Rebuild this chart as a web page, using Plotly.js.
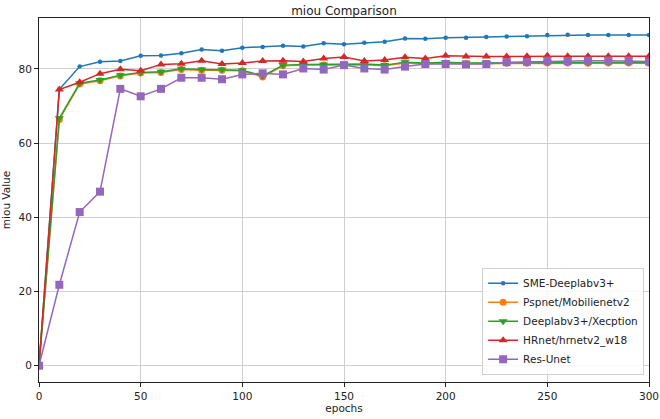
<!DOCTYPE html>
<html>
<head>
<meta charset="utf-8">
<script src="https://cdn.plot.ly/plotly-3.0.1.min.js"></script>
<style>
  html, body { margin: 0; padding: 0; background: #fff; }
  #chart { width: 660px; height: 419px; }
</style>
</head>
<body>
<div id="chart"></div>
<script>
// Training epochs (evaluated every 10 epochs)
const epochs = [0,10,20,30,40,50,60,70,80,90,100,110,120,130,140,150,160,170,180,190,200,210,220,230,240,250,260,270,280,290,300];

// mIoU per model
const smeDeeplab = [0,74.5,80.6,81.9,82.1,83.5,83.6,84.2,85.2,84.9,85.7,85.9,86.2,86.0,86.9,86.6,87.0,87.3,88.2,88.1,88.4,88.4,88.6,88.7,88.8,89.1,89.2,89.1,89.1,89.1,89.1];
const pspnet     = [0,66.3,75.9,76.8,78.1,78.9,79.0,79.8,79.6,79.6,79.5,77.8,80.8,81.0,81.0,81.1,81.1,80.8,81.6,81.4,81.6,81.4,81.4,81.5,81.5,81.6,81.6,81.5,81.6,81.6,81.5];
const deeplabX   = [0,66.7,76.1,77.0,78.3,79.0,79.2,80.0,79.8,79.8,79.6,78.1,81.0,81.2,81.2,81.3,81.3,81.0,81.8,81.6,81.8,81.6,81.6,81.7,81.7,81.8,81.8,81.7,81.8,81.8,81.7];
const hrnet      = [0,74.4,76.4,78.7,79.9,79.5,81.2,81.4,82.2,81.3,81.6,82.1,82.2,82.0,82.8,83.2,82.1,82.4,83.1,82.8,83.5,83.3,83.3,83.3,83.4,83.5,83.4,83.4,83.4,83.4,83.4];
const resUnet    = [0,21.8,41.4,46.9,74.6,72.6,74.6,77.6,77.6,77.2,78.5,78.8,78.5,80.1,79.8,81.0,80.1,79.8,80.6,81.3,81.3,81.2,81.3,81.8,81.9,82.2,82.1,82.2,82.2,82.2,82.0];

const seriesNames = ["SME-Deeplabv3+", "Pspnet/Mobilienetv2", "Deeplabv3+/Xecption", "HRnet/hrnetv2_w18", "Res-Unet"];

function series(name, y, color, symbol, size) {
  return {
    x: epochs, y: y, name: name, type: "scatter", mode: "lines+markers",
    line: { color: color, width: 1.5 },
    marker: { color: color, symbol: symbol, size: size }
  };
}

const traces = [
  series(seriesNames[0], smeDeeplab, "#1f77b4", "circle", 4.5),
  series(seriesNames[1], pspnet,     "#ff7f0e", "circle", 7),
  series(seriesNames[2], deeplabX,   "#2ca02c", "triangle-down", 8),
  series(seriesNames[3], hrnet,      "#d62728", "triangle-up", 8),
  series(seriesNames[4], resUnet,    "#9467bd", "square", 8)
];

const axisBase = {
  showline: true, mirror: true, linecolor: "#222", linewidth: 1,
  showgrid: true, gridcolor: "#cfcfcf", gridwidth: 1,
  zeroline: false,
  ticks: "outside", ticklen: 4, tickcolor: "#222",
  tickfont: { family: "DejaVu Sans", size: 10.5, color: "#222" }
};

const layout = {
  width: 660, height: 419,
  margin: { l: 39, r: 11, t: 18, b: 37 },
  paper_bgcolor: "#fff", plot_bgcolor: "#fff",
  font: { family: "DejaVu Sans", color: "#222" },
  title: { text: "miou Comparison", font: { family: "DejaVu Sans", size: 12, color: "#222" },
           x: 0.5, xref: "paper", y: 0.985, yanchor: "top" },
  xaxis: Object.assign({}, axisBase, {
    range: [0, 300], tickvals: [0,50,100,150,200,250,300],
    title: { text: "epochs", font: { family: "DejaVu Sans", size: 10.5, color: "#222" }, standoff: 4 }
  }),
  yaxis: Object.assign({}, axisBase, {
    range: [-4.4, 93.7], tickvals: [0,20,40,60,80],
    title: { text: "miou Value", font: { family: "DejaVu Sans", size: 10.5, color: "#222" }, standoff: 6 }
  }),
  showlegend: true,
  legend: {
    x: 0.992, y: 0.02, xanchor: "right", yanchor: "bottom",
    bgcolor: "rgba(255,255,255,0.85)", bordercolor: "#d0d0d0", borderwidth: 1,
    font: { family: "DejaVu Sans", size: 10.5, color: "#222" },
    tracegroupgap: 0, itemwidth: 30
  }
};

Plotly.newPlot("chart", traces, layout, { displayModeBar: false, staticPlot: true });
</script>
</body>
</html>
